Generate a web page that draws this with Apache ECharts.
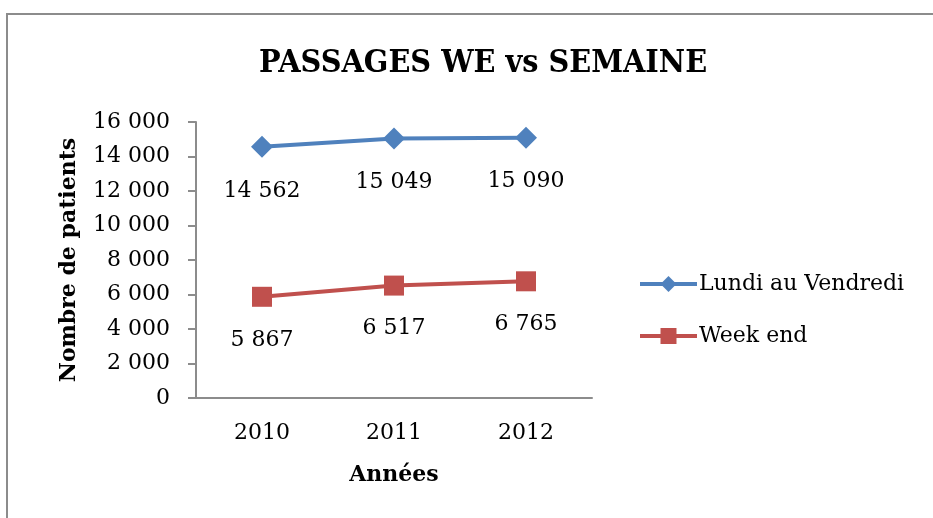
<!DOCTYPE html>
<html>
<head>
<meta charset="utf-8">
<script src="https://cdn.jsdelivr.net/npm/echarts@6/dist/echarts.min.js"></script>
<style>
    html, body { margin: 0; padding: 0; background: #fff; }
    #chart { width: 933px; height: 518px; }
</style>
</head>
<body>
<div id="chart"></div>
<script>
// données
const annees = ['2010', '2011', '2012'];
const semaine = [14562, 15049, 15090];
const weekEnd = [5867, 6517, 6765];

const serif = '"DejaVu Serif", "Liberation Serif", serif';
const titreFont = '"DejaVu Serif Condensed", "DejaVu Serif", serif';

// 14562 -> "14 562"
function espace(v) {
    return String(v).replace(/\B(?=(\d{3})+(?!\d))/g, ' ');
}

let myChart = echarts.init(document.getElementById('chart'));

let option = {
    backgroundColor: '#fff',
    animation: false,
    title: {
        text: 'PASSAGES WE vs SEMAINE',
        left: 478,
        top: 43,
        textAlign: 'center',
        textStyle: {
            fontFamily: titreFont,
            fontSize: 32,
            fontWeight: 'bold',
            color: '#000'
        }
    },
    legend: {
        orient: 'vertical',
        left: 638,
        top: 273,
        padding: 0,
        itemGap: 30,
        itemWidth: 57,
        itemHeight: 20,
        lineStyle: { width: 4 },
        textStyle: {
            fontFamily: serif,
            fontSize: 22,
            color: '#000',
            padding: [0, 0, 0, -3]
        },
        data: ['Lundi au Vendredi', 'Week end']
    },
    grid: {
        left: 196,
        right: 341,
        top: 122,
        bottom: 120
    },
    xAxis: {
        type: 'category',
        data: annees,
        name: 'Années',
        nameLocation: 'middle',
        nameGap: 66,
        nameTextStyle: {
            fontFamily: serif,
            fontSize: 22,
            fontWeight: 'bold',
            color: '#000'
        },
        axisLine: { lineStyle: { color: '#8c8c8c', width: 2 } },
        axisTick: { length: 8, lineStyle: { color: '#8c8c8c', width: 2 } },
        axisLabel: {
            fontFamily: serif,
            fontSize: 22,
            color: '#000',
            margin: 24
        }
    },
    yAxis: {
        type: 'value',
        min: 0,
        max: 16000,
        interval: 2000,
        name: 'Nombre de patients',
        nameLocation: 'middle',
        nameGap: 116,
        nameTextStyle: {
            fontFamily: serif,
            fontSize: 22,
            fontWeight: 'bold',
            color: '#000'
        },
        axisLine: { show: true, lineStyle: { color: '#8c8c8c', width: 2 } },
        axisTick: { show: true, length: 8, lineStyle: { color: '#8c8c8c', width: 2 } },
        splitLine: { show: false },
        axisLabel: {
            fontFamily: serif,
            fontSize: 22,
            color: '#000',
            margin: 26,
            formatter: espace
        }
    },
    series: [{
        name: 'Lundi au Vendredi',
        type: 'line',
        data: semaine,
        symbol: 'diamond',
        symbolSize: 22,
        lineStyle: { color: '#4f81bd', width: 4 },
        itemStyle: { color: '#4f81bd' },
        label: {
            show: true,
            position: 'bottom',
            distance: 22,
            fontFamily: serif,
            fontSize: 22,
            color: '#000',
            formatter: (p) => espace(p.value)
        }
    },
    {
        name: 'Week end',
        type: 'line',
        data: weekEnd,
        symbol: 'rect',
        symbolSize: 20,
        lineStyle: { color: '#c0504d', width: 4 },
        itemStyle: { color: '#c0504d' },
        label: {
            show: true,
            position: 'bottom',
            distance: 22,
            fontFamily: serif,
            fontSize: 22,
            color: '#000',
            formatter: (p) => espace(p.value)
        }
    }],
    graphic: [{
        type: 'polyline',
        shape: { points: [[7, 520], [7, 14], [935, 14]] },
        style: { stroke: '#8c8c8c', lineWidth: 2, fill: null }
    }]
};

myChart.setOption(option);
</script>
</body>
</html>
